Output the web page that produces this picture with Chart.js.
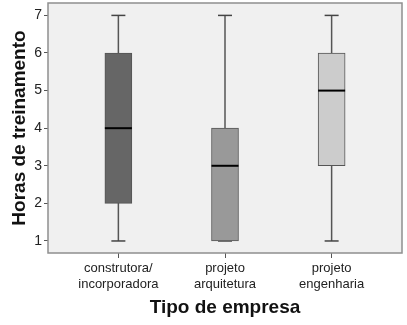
<!DOCTYPE html>
<html>
<head>
<meta charset="utf-8">
<script src="https://cdn.jsdelivr.net/npm/chart.js@4/dist/chart.umd.min.js"></script>
<style>
  html, body { margin: 0; padding: 0; background: #ffffff; }
  #wrap { width: 407px; height: 325px; }
</style>
</head>
<body>
<div id="wrap"><canvas id="chart"></canvas></div>
<script>
// box plot values
const categories = [['construtora/', 'incorporadora'], ['projeto', 'arquitetura'], ['projeto', 'engenharia']];
const minValues = [1, 1, 1];
const q1Values = [2, 1, 3];
const medianValues = [4, 3, 5];
const q3Values = [6, 4, 6];
const maxValues = [7, 7, 7];
const boxColors = ['#666666', '#999999', '#cccccc'];
const yTicks = [1, 2, 3, 4, 5, 6, 7];

const FONT = "'Liberation Sans', Arial, sans-serif";
const idx = categories.map((c, i) => i);

// whisker stems: one segment per category, split by a null point
const stems = [];
idx.forEach((i) => {
  stems.push({ x: i, y: minValues[i] }, { x: i, y: maxValues[i] }, { x: i, y: null });
});
const caps = idx.map((i) => ({ x: i, y: minValues[i] })).concat(idx.map((i) => ({ x: i, y: maxValues[i] })));

const plotFrame = {
  id: 'plotFrame',
  beforeDatasetsDraw(chart) {
    const { ctx, chartArea: a } = chart;
    ctx.save();
    ctx.fillStyle = '#f0f0f0';
    ctx.fillRect(a.left, a.top, a.right - a.left, a.bottom - a.top);
    ctx.restore();
  },
  afterDraw(chart) {
    const { ctx, chartArea: a } = chart;
    ctx.save();
    ctx.strokeStyle = '#8f8f8f';
    ctx.lineWidth = 1.5;
    ctx.strokeRect(a.left, a.top, a.right - a.left, a.bottom - a.top);
    ctx.restore();
  }
};

new Chart(document.getElementById('chart'), {
  type: 'bar',
  data: {
    datasets: [
      {
        type: 'line',
        data: stems,
        borderColor: '#555555',
        borderWidth: 1.5,
        pointRadius: 0,
        spanGaps: false,
        order: 4
      },
      {
        type: 'line',
        data: caps,
        showLine: false,
        pointStyle: 'line',
        pointRadius: 7,
        borderColor: '#444444',
        pointBorderWidth: 1.5,
        order: 3
      },
      {
        type: 'bar',
        data: idx.map((i) => ({ x: i, y: [q1Values[i], q3Values[i]] })),
        backgroundColor: boxColors,
        borderColor: '#555555',
        borderWidth: 1,
        borderSkipped: false,
        barThickness: 27,
        grouped: false,
        order: 2
      },
      {
        type: 'line',
        data: idx.map((i) => ({ x: i, y: medianValues[i] })),
        showLine: false,
        pointStyle: 'line',
        pointRadius: 13.5,
        borderColor: '#000000',
        pointBorderWidth: 2,
        order: 1
      }
    ]
  },
  options: {
    responsive: true,
    maintainAspectRatio: false,
    animation: false,
    events: [],
    layout: { autoPadding: false, padding: { left: 4, right: 5, top: 3, bottom: 6 } },
    plugins: { legend: { display: false }, tooltip: { enabled: false } },
    scales: {
      x: {
        type: 'linear',
        offset: false,
        min: -0.66,
        max: 2.66,
        afterBuildTicks: (scale) => { scale.ticks = idx.map((v) => ({ value: v })); },
        afterFit: (scale) => {
          scale.height = 66;
          scale.paddingLeft = 0;
          scale.paddingRight = 0;
        },
        grid: { offset: false, drawOnChartArea: false, color: '#555555', tickLength: 5, tickWidth: 1 },
        border: { display: false },
        ticks: {
          callback: (v) => categories[v],
          color: '#222222',
          font: { family: FONT, size: 13 },
          padding: 3,
          maxRotation: 0
        },
        title: {
          display: true,
          text: 'Tipo de empresa',
          color: '#111111',
          font: { family: FONT, size: 19, weight: 'bold' },
          padding: { top: 3, bottom: 0 }
        }
      },
      y: {
        min: 0.68,
        max: 7.33,
        afterBuildTicks: (scale) => { scale.ticks = yTicks.map((v) => ({ value: v })); },
        afterFit: (scale) => {
          scale.width = 44;
          scale.paddingTop = 0;
          scale.paddingBottom = 0;
        },
        grid: { drawOnChartArea: false, color: '#555555', tickLength: 4, tickWidth: 1 },
        border: { display: false },
        ticks: {
          color: '#222222',
          font: { family: FONT, size: 14 },
          padding: 2
        },
        title: {
          display: true,
          text: 'Horas de treinamento',
          color: '#111111',
          font: { family: FONT, size: 19, weight: 'bold' },
          padding: { top: 4, bottom: 2 }
        }
      }
    }
  },
  plugins: [plotFrame]
});
</script>
</body>
</html>
